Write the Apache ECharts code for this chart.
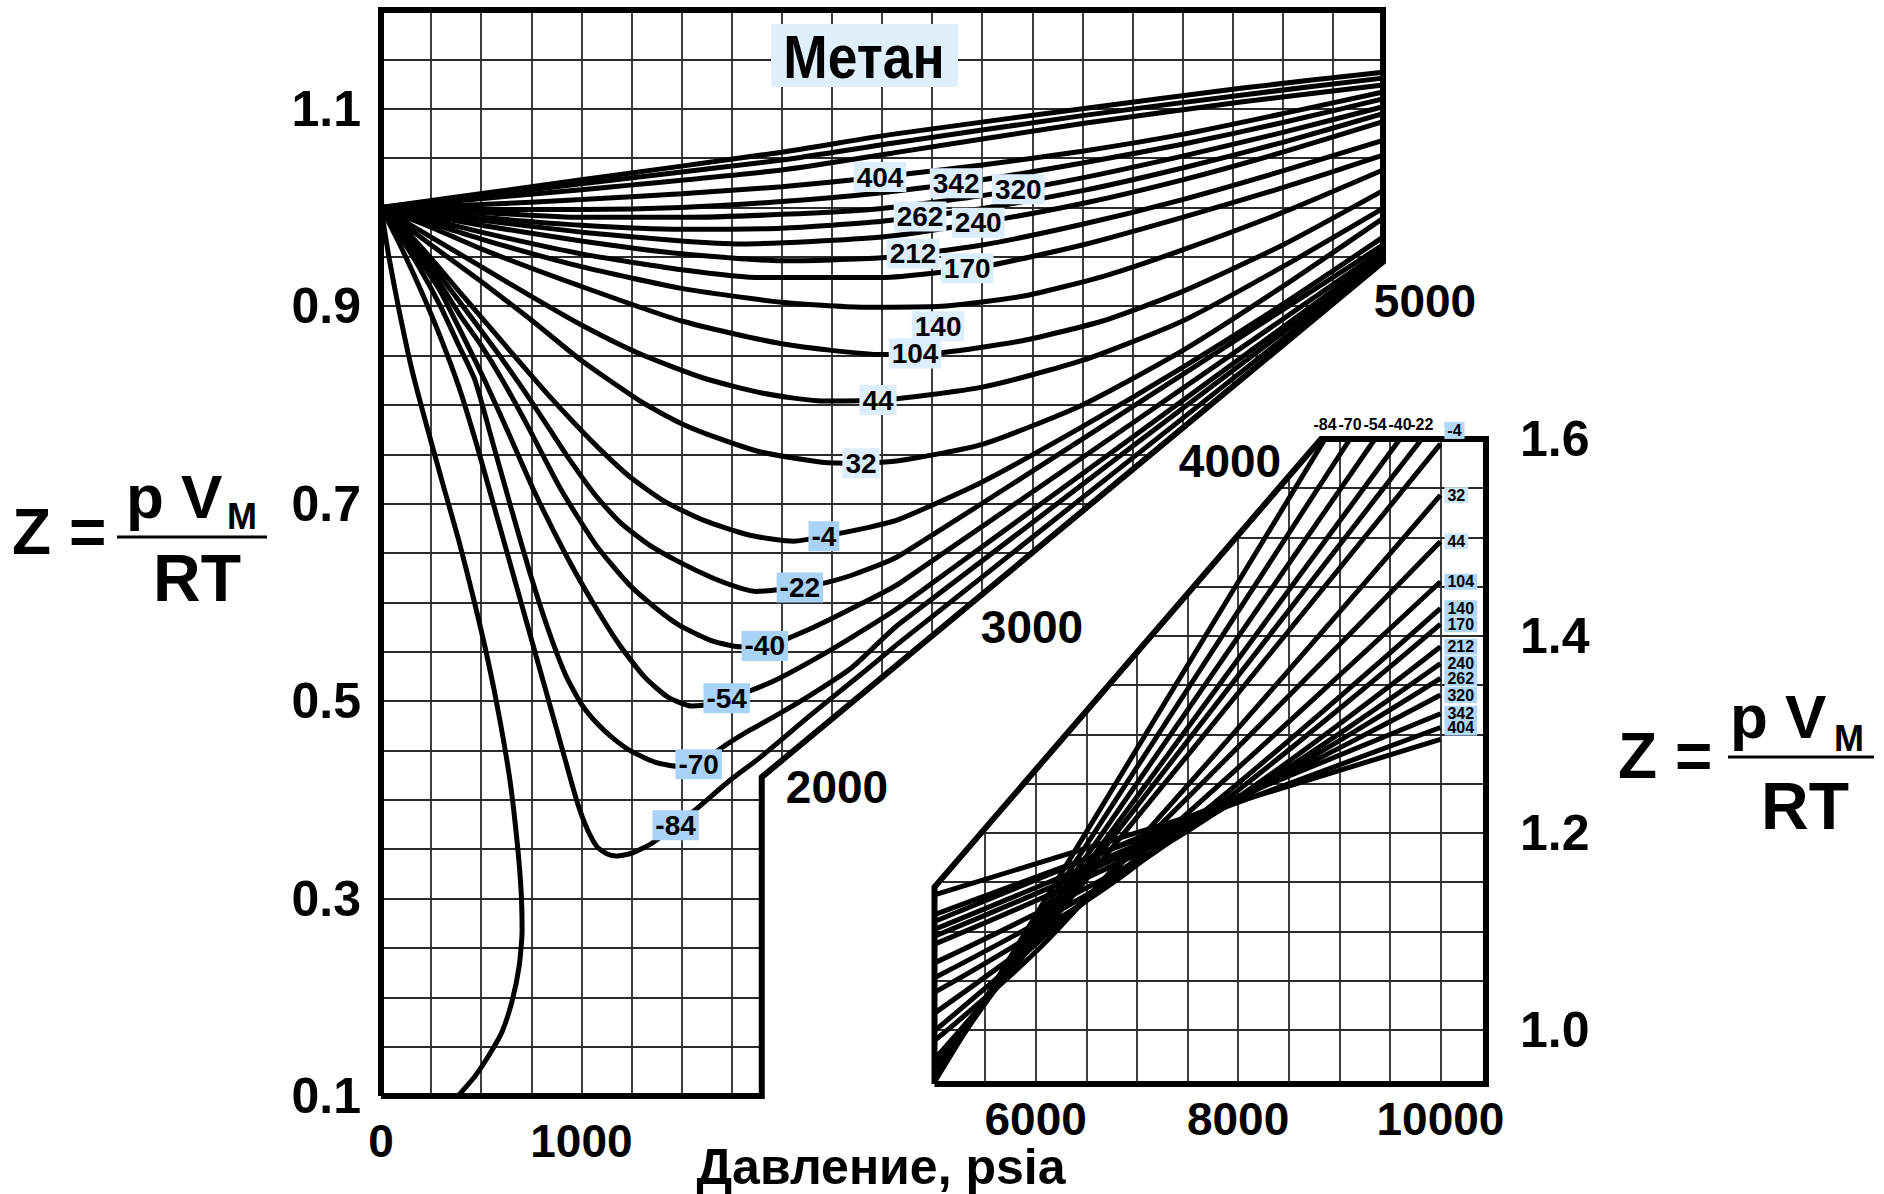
<!DOCTYPE html>
<html lang="ru">
<head>
<meta charset="UTF-8">
<title>Метан: Z = pV/RT</title>
<script src="https://cdn.jsdelivr.net/npm/echarts/dist/echarts.min.js"></script>
<style>
  html, body { margin: 0; padding: 0; background: #fff; }
  #main { width: 1884px; height: 1194px; }
</style>
</head>
<body>
<div id="main"></div>
<script>
// Z = pV/RT для метана, давление в psia, подписи кривых - температура, °F

// ---- основной график, 0..5000 psia ----
var zSteep = [[0,1.0],[40,0.949],[90,0.896],[155,0.835],[225,0.781],[314,0.716],[389,0.662],[464,0.602],[534,0.541],[594,0.48],[644,0.419],[679,0.358],[699,0.308],[704,0.267],[689,0.231],[654,0.196],[604,0.165],[544,0.143],[469,0.12],[384,0.1]];
var zM84 = [[0,1],[95,0.962],[195,0.918],[294,0.87],[389,0.818],[480,0.758],[570,0.693],[660,0.628],[750,0.563],[840,0.498],[920,0.44],[980,0.397],[1030,0.37],[1080,0.352],[1130,0.345],[1173,0.343],[1252,0.346],[1352,0.356],[1552,0.387],[1737,0.419],[1886,0.442],[2151,0.487],[2400,0.528],[2585,0.559],[5000,0.947]];
var zM70 = [[0,1],[95,0.971],[195,0.938],[294,0.901],[384,0.862],[469,0.825],[560,0.76],[650,0.695],[740,0.632],[830,0.575],[920,0.527],[1000,0.497],[1080,0.477],[1160,0.462],[1250,0.449],[1370,0.438],[1477,0.434],[1587,0.436],[1702,0.453],[1836,0.47],[1986,0.487],[2151,0.507],[2350,0.534],[2585,0.578],[5000,0.95]];
var zM54 = [[0,1],[95,0.975],[195,0.946],[294,0.916],[404,0.872],[524,0.822],[644,0.768],[768,0.711],[923,0.648],[1068,0.596],[1193,0.556],[1317,0.524],[1432,0.504],[1552,0.495],[1642,0.497],[1727,0.503],[1836,0.51],[1986,0.523],[2151,0.541],[2320,0.561],[2585,0.595],[5000,0.953]];
var zM40 = [[0,1],[95,0.978],[195,0.952],[294,0.923],[394,0.891],[504,0.859],[609,0.824],[744,0.774],[893,0.716],[1073,0.658],[1238,0.618],[1372,0.594],[1487,0.577],[1652,0.561],[1791,0.555],[1926,0.556],[2151,0.574],[2400,0.599],[2585,0.619],[5000,0.957]];
var zM22 = [[0,1],[95,0.981],[195,0.957],[294,0.931],[394,0.904],[504,0.874],[609,0.845],[719,0.813],[833,0.778],[943,0.744],[1068,0.709],[1193,0.681],[1332,0.659],[1487,0.641],[1652,0.625],[1786,0.615],[1876,0.611],[1991,0.613],[2091,0.615],[2221,0.62],[2370,0.629],[2585,0.647],[5000,0.962]];
var zM4 = [[0,1],[95,0.983],[195,0.961],[294,0.938],[394,0.914],[504,0.888],[609,0.863],[719,0.837],[831,0.811],[963,0.782],[1093,0.755],[1243,0.727],[1417,0.702],[1612,0.683],[1841,0.668],[2061,0.662],[2211,0.667],[2435,0.676],[2585,0.684],[3000,0.722],[3500,0.778],[4000,0.838],[4500,0.902],[5000,0.97]];
var z32 = [[0,1],[250,0.962],[500,0.925],[750,0.886],[1000,0.845],[1300,0.803],[1500,0.781],[1700,0.765],[1900,0.752],[2200,0.742],[2400,0.741],[2600,0.744],[3000,0.76],[3500,0.8],[4000,0.855],[4500,0.92],[5000,0.989]];
var z44 = [[0,1],[250,0.97],[500,0.94],[750,0.91],[1000,0.881],[1300,0.851],[1612,0.827],[1900,0.812],[2200,0.804],[2500,0.805],[3000,0.818],[3500,0.845],[4000,0.885],[4500,0.94],[5000,0.999]];
var z104 = [[0,1],[250,0.98],[500,0.958],[1000,0.92],[1500,0.885],[2000,0.862],[2500,0.851],[2800,0.853],[3200,0.865],[3600,0.885],[4000,0.915],[4500,0.962],[5000,1.017]];
var z140 = [[0,1],[500,0.968],[1000,0.94],[1500,0.918],[2000,0.904],[2400,0.899],[2800,0.9],[3200,0.91],[3600,0.93],[4000,0.957],[4500,0.995],[5000,1.038]];
var z170 = [[0,1],[500,0.975],[1000,0.953],[1500,0.937],[1900,0.929],[2500,0.929],[3000,0.94],[3500,0.962],[4000,0.99],[4500,1.02],[5000,1.053]];
var z212 = [[0,1],[500,0.982],[1000,0.966],[1500,0.953],[2000,0.946],[2500,0.949],[3000,0.962],[3500,0.983],[4000,1.008],[4500,1.037],[5000,1.068]];
var z240 = [[0,1],[500,0.987],[1000,0.975],[1500,0.966],[1800,0.963],[2500,0.97],[3000,0.985],[3500,1.004],[4000,1.028],[4500,1.056],[5000,1.087]];
var z262 = [[0,1],[500,0.99],[1000,0.982],[1500,0.978],[2000,0.979],[2500,0.986],[3000,0.999],[3500,1.017],[4000,1.04],[4500,1.066],[5000,1.095]];
var z320 = [[0,1],[500,0.995],[1000,0.99],[1500,0.99],[2000,0.993],[2500,0.999],[3000,1.012],[3500,1.03],[4000,1.052],[4500,1.076],[5000,1.102]];
var z342 = [[0,1],[500,0.998],[1000,0.998],[1500,1.0],[2000,1.006],[2500,1.015],[3000,1.028],[3500,1.045],[4000,1.064],[4500,1.086],[5000,1.11]];
var z404 = [[0,1],[500,1.003],[1000,1.008],[1500,1.014],[2000,1.021],[2500,1.031],[3000,1.043],[3500,1.057],[4000,1.074],[4500,1.095],[5000,1.117]];
var zTop3 = [[0,1],[1000,1.018],[2000,1.038],[2550,1.055],[3500,1.085],[4300,1.107],[5000,1.124]];
var zTop2 = [[0,1],[1000,1.024],[2000,1.048],[2550,1.065],[3500,1.093],[4300,1.114],[5000,1.131]];
var zTop1 = [[0,1],[1000,1.028],[2000,1.056],[2550,1.074],[3500,1.1],[4300,1.121],[5000,1.137]];

var mainNames = ['', '-84', '-70', '-54', '-40', '-22', '-4', '32', '44', '104', '140', '170', '212', '240', '262', '320', '342', '404', '', '', ''];
var mainCurves = [zSteep, zM84, zM70, zM54, zM40, zM22, zM4, z32, z44, z104, z140, z170, z212, z240, z262, z320, z342, z404, zTop3, zTop2, zTop1];
// давление, при котором на кривой стоит подпись
var mainLabelAt = [null, 1470, 1585, 1725, 1915, 2090, 2210, 2395, 2480, 2665, 2780, 2925, 2655, 2980, 2690, 3180, 2870, 2490, null, null, null];

// ---- вставка, 5000..10000 psia ----
var iM84 = [[5000,0.947],[8859,1.6]];
var iM70 = [[5000,0.95],[9106,1.6]];
var iM54 = [[5000,0.953],[9353,1.6]];
var iM40 = [[5000,0.957],[9600,1.6]];
var iM22 = [[5000,0.962],[9815,1.6]];
var iM4 = [[5000,0.97],[5944,1.083],[10000,1.595]];
var i32 = [[5000,0.989],[6200,1.1],[10000,1.543]];
var i44 = [[5000,0.999],[6438,1.128],[10000,1.496]];
var i104 = [[5000,1.017],[6700,1.148],[10000,1.455]];
var i140 = [[5000,1.038],[6932,1.162],[10000,1.428]];
var i170 = [[5000,1.053],[7200,1.182],[10000,1.412]];
var i212 = [[5000,1.068],[7456,1.199],[10000,1.389]];
var i240 = [[5000,1.087],[7600,1.21],[10000,1.372]];
var i262 = [[5000,1.095],[7722,1.219],[10000,1.357]];
var i320 = [[5000,1.102],[7722,1.221],[10000,1.34]];
var i342 = [[5000,1.11],[10000,1.321]];
var i404 = [[5000,1.117],[10000,1.307]];
var iTop = [[5000,1.137],[10000,1.295]];

var insetNames = ['-84', '-70', '-54', '-40', '-22', '-4', '32', '44', '104', '140', '170', '212', '240', '262', '320', '342', '404', ''];
var insetCurves = [iM84, iM70, iM54, iM40, iM22, iM4, i32, i44, i104, i140, i170, i212, i240, i262, i320, i342, i404, iTop];

// подписи осей
var mainXLabels = [0, 1000];
var mainYLabels = [0.1, 0.3, 0.5, 0.7, 0.9, 1.1];
var isobarLabels = ['2000', '3000', '4000', '5000'];
var insetXLabels = [6000, 8000, 10000];
var insetYLabels = [1.0, 1.2, 1.4, 1.6];

// контуры полей
var mainFrame = [[0,0.1],[0,1.2],[5000,1.2],[5000,0.945],[1900,0.423],[1900,0.1],[0,0.1]];
var insetFrame = [[5000,0.945],[5000,1.145],[8820,1.6],[10450,1.6],[10450,0.945],[5000,0.945]];

var FONT = '"Liberation Sans", Arial, sans-serif';

// --- границы сетки (по контуру) ---
var stepPt = mainFrame[4], edgePt = mainFrame[3];
function mainBottomAt(p) {
  if (p <= stepPt[0]) return 0.1;
  return stepPt[1] + (p - stepPt[0]) * (edgePt[1] - stepPt[1]) / (edgePt[0] - stepPt[0]);
}
function mainRightAt(z) {
  if (z <= stepPt[1]) return stepPt[0];
  if (z >= edgePt[1]) return edgePt[0];
  return stepPt[0] + (z - stepPt[1]) * (edgePt[0] - stepPt[0]) / (edgePt[1] - stepPt[1]);
}
var cutA = insetFrame[1], cutB = insetFrame[2];
function insetTopAt(p) {
  return Math.min(1.6, cutA[1] + (p - cutA[0]) * (cutB[1] - cutA[1]) / (cutB[0] - cutA[0]));
}
function insetLeftAt(z) {
  if (z <= cutA[1]) return cutA[0];
  return cutA[0] + (z - cutA[1]) * (cutB[0] - cutA[0]) / (cutB[1] - cutA[1]);
}

var mainGrid = [], insetGrid = [], p, k, z;
for (p = 250; p < 5000; p += 250) mainGrid.push({ coords: [[p, mainBottomAt(p)], [p, 1.2]] });
for (k = 3; k <= 23; k++) { z = k * 5 / 100; mainGrid.push({ coords: [[0, z], [mainRightAt(z), z]] }); }
for (p = 5500; p <= 10000; p += 500) insetGrid.push({ coords: [[p, 0.945], [p, insetTopAt(p)]] });
for (k = 20; k <= 31; k++) { z = k * 5 / 100; insetGrid.push({ coords: [[insetLeftAt(z), z], [10450, z]] }); }

function zAt(pts, at) {
  for (var i = 1; i < pts.length; i++) {
    var a = pts[i - 1], b = pts[i];
    if (at >= a[0] && at <= b[0]) return a[1] + (b[1] - a[1]) * (at - a[0]) / (b[0] - a[0]);
  }
  return pts[pts.length - 1][1];
}

function boxColor(name) { return name.charAt(0) === '-' ? '#a9d3f6' : '#dcedfb'; }

var series = [
  { type: 'lines', coordinateSystem: 'cartesian2d', xAxisIndex: 0, yAxisIndex: 0, silent: true, z: 1,
    data: mainGrid, lineStyle: { color: '#2a2a2a', width: 1.8, opacity: 1 } },
  { type: 'lines', coordinateSystem: 'cartesian2d', xAxisIndex: 1, yAxisIndex: 1, silent: true, z: 1,
    data: insetGrid, lineStyle: { color: '#2a2a2a', width: 1.8, opacity: 1 } }
];

mainCurves.forEach(function (pts, i) {
  series.push({ type: 'line', name: mainNames[i], xAxisIndex: 0, yAxisIndex: 0, data: pts,
    showSymbol: false, smooth: 0.2, silent: true, z: 3,
    lineStyle: { color: '#000', width: 5 } });
});
insetCurves.forEach(function (pts, i) {
  series.push({ type: 'line', name: insetNames[i], xAxisIndex: 1, yAxisIndex: 1, data: pts,
    showSymbol: false, smooth: 0.35, silent: true, z: 3,
    lineStyle: { color: '#000', width: 5 } });
});

series.push({ type: 'line', xAxisIndex: 0, yAxisIndex: 0, data: mainFrame, showSymbol: false, silent: true, z: 4,
  lineStyle: { color: '#000', width: 6, join: 'miter' } });
series.push({ type: 'line', xAxisIndex: 1, yAxisIndex: 1, data: insetFrame, showSymbol: false, silent: true, z: 4,
  lineStyle: { color: '#000', width: 6, join: 'miter' } });

// подписи температур на основном графике
var mainLabelData = [];
mainNames.forEach(function (n, i) {
  if (!n) return;
  var at = mainLabelAt[i];
  mainLabelData.push({ name: n, value: [at, zAt(mainCurves[i], at)],
    label: { backgroundColor: boxColor(n), offset: n === '140' ? [0, 20] : [0, 0] } });
});
series.push({ type: 'scatter', xAxisIndex: 0, yAxisIndex: 0, data: mainLabelData, symbolSize: 2,
  itemStyle: { color: 'rgba(255,255,255,0)' }, silent: true, z: 6,
  label: { show: true, position: 'inside', formatter: '{b}', color: '#000', fontFamily: FONT,
    fontWeight: 'bold', fontSize: 28, padding: [2, 3, 0, 3], textBorderWidth: 0, opacity: 1 } });

// подписи на вставке
var insetLabelData = [];
insetNames.forEach(function (n, i) {
  if (!n) return;
  var end = insetCurves[i][insetCurves[i].length - 1];
  var atTop = end[1] >= 1.59;
  var lab;
  if (n === '-4') lab = { position: 'top', distance: 4, offset: [14, 0], backgroundColor: '#b3d8f7', padding: [1, 3, 0, 3] };
  else if (atTop) lab = { position: 'top', distance: 6 };
  else lab = { position: 'right', distance: 3, backgroundColor: (n === '32' || n === '44') ? '#cde6fa' : '#b0d7f7', padding: [0, 3, 0, 3] };
  insetLabelData.push({ name: n, value: end, label: lab });
});
series.push({ type: 'scatter', xAxisIndex: 1, yAxisIndex: 1, data: insetLabelData, symbolSize: 2,
  itemStyle: { color: 'rgba(255,255,255,0)' }, silent: true, z: 6, clip: false,
  label: { show: true, formatter: '{b}', color: '#000', fontFamily: FONT, fontWeight: 'bold', fontSize: 16,
    lineHeight: 16, textBorderWidth: 0, opacity: 1 } });

var tickFont = { color: '#000', fontFamily: FONT, fontWeight: 'bold' };
function plain(v) { return String(v); }
function oneDec(v) { return v.toFixed(1); }

var option = {
  animation: false,
  backgroundColor: '#fff',
  grid: [
    { left: 381, top: 10, width: 1002, height: 1086 },
    { left: 934.5, top: 439, width: 551.5, height: 645 }
  ],
  xAxis: [
    { type: 'value', gridIndex: 0, min: 0, max: 5000,
      axisLine: { show: false }, axisTick: { show: false }, splitLine: { show: false },
      axisLabel: Object.assign({ fontSize: 46, lineHeight: 46, margin: 22, customValues: mainXLabels, formatter: plain }, tickFont) },
    { type: 'value', gridIndex: 1, min: 5000, max: 10450,
      axisLine: { show: false }, axisTick: { show: false }, splitLine: { show: false },
      axisLabel: Object.assign({ fontSize: 46, lineHeight: 46, margin: 12, customValues: insetXLabels, formatter: plain }, tickFont) }
  ],
  yAxis: [
    { type: 'value', gridIndex: 0, min: 0.1, max: 1.2,
      axisLine: { show: false }, axisTick: { show: false }, splitLine: { show: false },
      axisLabel: Object.assign({ fontSize: 50, margin: 20, customValues: mainYLabels, formatter: oneDec }, tickFont) },
    { type: 'value', gridIndex: 1, position: 'right', min: 0.945, max: 1.6,
      axisLine: { show: false }, axisTick: { show: false }, splitLine: { show: false },
      axisLabel: Object.assign({ fontSize: 50, margin: 34, customValues: insetYLabels, formatter: oneDec }, tickFont) }
  ],
  graphic: [
    { type: 'rect', shape: { x: 771, y: 24, width: 187, height: 63 }, style: { fill: '#e0effc' }, z: 9 },
    { type: 'text', x: 864, y: 57, scaleX: 0.86, z: 10,
      style: { text: 'Метан', fill: '#000', font: 'bold 62px ' + FONT, align: 'center', verticalAlign: 'middle' } },
    { type: 'text', x: 881, y: 1167, z: 10,
      style: { text: 'Давление, psia', fill: '#000', font: 'bold 50px ' + FONT, lineHeight: 50, align: 'center', verticalAlign: 'middle' } },
    // левая формула
    { type: 'text', x: 12, y: 532, style: { text: 'Z =', fill: '#000', font: 'bold 64px ' + FONT, verticalAlign: 'middle' } },
    { type: 'text', x: 126, y: 496, style: { text: 'p V', fill: '#000', font: 'bold 62px ' + FONT, verticalAlign: 'middle' } },
    { type: 'text', x: 227, y: 516, style: { text: 'M', fill: '#000', font: 'bold 36px ' + FONT, verticalAlign: 'middle' } },
    { type: 'line', shape: { x1: 117, y1: 537, x2: 267, y2: 537 }, style: { stroke: '#000', lineWidth: 3 } },
    { type: 'text', x: 197, y: 578, style: { text: 'RT', fill: '#000', font: 'bold 66px ' + FONT, align: 'center', verticalAlign: 'middle' } },
    // правая формула
    { type: 'text', x: 1618, y: 756, style: { text: 'Z =', fill: '#000', font: 'bold 64px ' + FONT, verticalAlign: 'middle' } },
    { type: 'text', x: 1730, y: 716, style: { text: 'p V', fill: '#000', font: 'bold 62px ' + FONT, verticalAlign: 'middle' } },
    { type: 'text', x: 1834, y: 738, style: { text: 'M', fill: '#000', font: 'bold 36px ' + FONT, verticalAlign: 'middle' } },
    { type: 'line', shape: { x1: 1728, y1: 757, x2: 1874, y2: 757 }, style: { stroke: '#000', lineWidth: 3 } },
    { type: 'text', x: 1805, y: 806, style: { text: 'RT', fill: '#000', font: 'bold 66px ' + FONT, align: 'center', verticalAlign: 'middle' } },
    // изобары у скошенной границы
    { type: 'text', x: 837, y: 787, style: { text: isobarLabels[0], fill: '#000', font: 'bold 46px ' + FONT, align: 'center', verticalAlign: 'middle' } },
    { type: 'text', x: 1032, y: 627, style: { text: isobarLabels[1], fill: '#000', font: 'bold 46px ' + FONT, align: 'center', verticalAlign: 'middle' } },
    { type: 'text', x: 1230, y: 461, style: { text: isobarLabels[2], fill: '#000', font: 'bold 46px ' + FONT, align: 'center', verticalAlign: 'middle' } },
    { type: 'text', x: 1425, y: 301, style: { text: isobarLabels[3], fill: '#000', font: 'bold 46px ' + FONT, align: 'center', verticalAlign: 'middle' } }
  ],
  series: series
};

var chart = echarts.init(document.getElementById('main'), null, { renderer: 'svg' });
chart.setOption(option);
</script>
</body>
</html>
